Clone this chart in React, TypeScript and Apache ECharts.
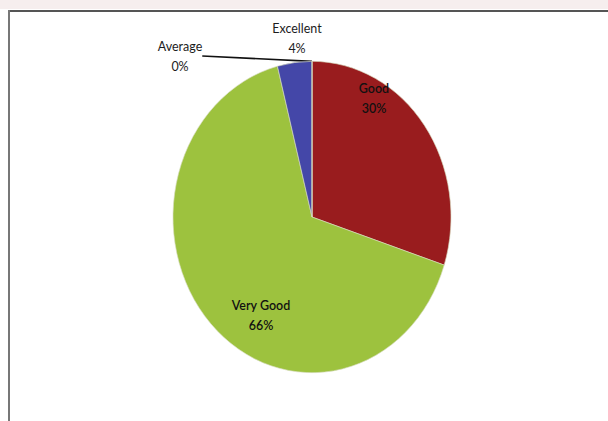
import React, { useEffect, useRef } from "react";
import * as echarts from "echarts";

const categories = ["Good", "Very Good", "Excellent", "Average"];
const values = [30, 66, 4, 0];
const percentLabels = ["30%", "66%", "4%", "0%"];
const colors = ["#991c1e", "#9dc23e", "#4447a8", "#7f6f9f"];

const SY = 1.12;

export default function App() {
  const ref = useRef<HTMLDivElement>(null);
  useEffect(() => {
    document.body.style.margin = "0";
    if (!ref.current) return;
    const chart = echarts.init(ref.current, null, { renderer: "svg" });
    const labelPos: Record<number, [number, number]> = {
      0: [374, 98 / SY],
      1: [261, 315 / SY],
      2: [297, 38 / SY],
      3: [180, 56 / SY],
    };
    chart.setOption({
      animation: false,
      backgroundColor: "transparent",
      series: [
        {
          type: "pie",
          center: [312, 217 / SY],
          radius: 139,
          startAngle: 90,
          clockwise: true,
          avoidLabelOverlap: false,
          data: categories.map((name, i) => ({
            name,
            value: values[i],
            itemStyle: { color: colors[i] },
            label: i < 2 ? { fontWeight: 600, color: "#111" } : {},
            labelLine: { show: i === 3, length: 10, length2: 0, lineStyle: { color: "#111", width: 1.5 } },
          })),
          itemStyle: { borderColor: "#d8dcc0", borderWidth: 0.6 },
          label: {
            show: true,
            position: "outside",
            formatter: (p: any) => `${p.name}\n${percentLabels[p.dataIndex]}`,
            fontFamily: "Lato, 'Open Sans', sans-serif",
            fontSize: 12.5,
            lineHeight: 18,
            color: "#1c1c1c",
            align: "center",
          },
          labelLayout: (params: any) => {
            const pos = labelPos[params.dataIndex];
            return { x: pos[0], y: pos[1], align: "center", verticalAlign: "middle" };
          },
        },
      ],
    });
    return () => chart.dispose();
  }, []);
  return (
    <div style={{ position: "relative", width: 608, height: 421, background: "#fff", overflow: "hidden" }}>
      <div style={{ position: "absolute", left: 0, top: 0, width: 608, height: 9, background: "#f6eeee" }} />
      <div style={{ position: "absolute", left: 8, top: 10, width: 600, height: 2, background: "#555" }} />
      <div style={{ position: "absolute", left: 8, top: 10, width: 2, height: 411, background: "#777" }} />
      <div
        ref={ref}
        style={{
          position: "absolute",
          left: 0,
          top: 0,
          width: 608,
          height: Math.round(421 / SY),
          transform: `scaleY(${SY})`,
          transformOrigin: "0 0",
        }}
      />
    </div>
  );
}
